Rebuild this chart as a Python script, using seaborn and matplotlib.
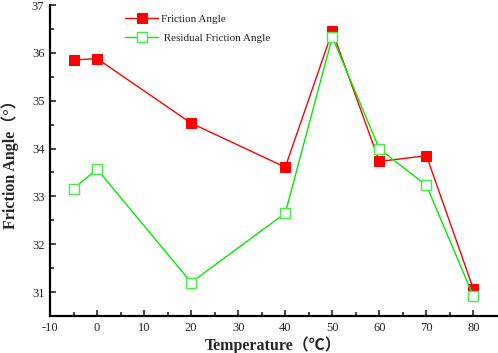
import pandas as pd
import numpy as np
import matplotlib.pyplot as plt
import seaborn as sns

temperature = [-5, 0, 20, 40, 50, 60, 70, 80]
friction_angle = [35.85, 35.88, 34.53, 33.61, 36.45, 33.73, 33.85, 31.06]
residual_angle = [33.16, 33.57, 31.2, 32.65, 36.33, 33.99, 33.23, 30.91]

df = pd.DataFrame({'Temperature': temperature,
                   'Friction Angle': friction_angle,
                   'Residual Friction Angle': residual_angle})

sns.set_style("ticks")
plt.rcParams['font.family'] = ['Liberation Serif', 'Noto Sans CJK SC']
plt.rcParams['axes.unicode_minus'] = False

fig = plt.figure(figsize=(4.98, 3.53), dpi=100)
ax = fig.add_axes([50/498, 37/353, 447/498, 311/353])

sns.lineplot(data=df, x='Temperature', y='Friction Angle', ax=ax, color='#ff0000',
             marker='s', markersize=6.5, markerfacecolor='#ff0000', markeredgecolor='#ff0000',
             linewidth=1, label='Friction Angle')
sns.lineplot(data=df, x='Temperature', y='Residual Friction Angle', ax=ax, color='#00ee00',
             marker='s', markersize=6.5, markerfacecolor='white', markeredgecolor='#44ee44',
             markeredgewidth=1, linewidth=1, label=' Residual Friction Angle')

ax.set_xlim(-10, 85)
ax.set_ylim(30.5, 37)
ax.set_xticks(np.arange(-10, 81, 10))
ax.set_xticks(np.arange(-5, 85, 10), minor=True)
ax.set_yticks(np.arange(31, 38, 1))
ax.set_yticks(np.arange(30.5, 37, 1), minor=True)
ax.tick_params(axis='both', which='major', length=4, width=1.2, labelsize=9, direction='in', pad=4)
ax.tick_params(axis='both', which='minor', length=3, width=1.2, direction='in')
for s in ['top', 'right']:
    ax.spines[s].set_visible(False)
for s in ['left', 'bottom']:
    ax.spines[s].set_linewidth(1.6)
    ax.spines[s].set_color('black')

ax.set_xlabel('Temperature（℃）', fontsize=11.5, fontweight='bold', labelpad=2)
ax.set_ylabel('Friction Angle（°）', fontsize=11.5, fontweight='bold', labelpad=9)

ax.legend(loc='upper left', bbox_to_anchor=(0.158, 0.985), frameon=False, fontsize=8,
          handlelength=3.0, handletextpad=0.2, labelspacing=0.8, borderaxespad=0)

fig.savefig('out.png', dpi=100)
